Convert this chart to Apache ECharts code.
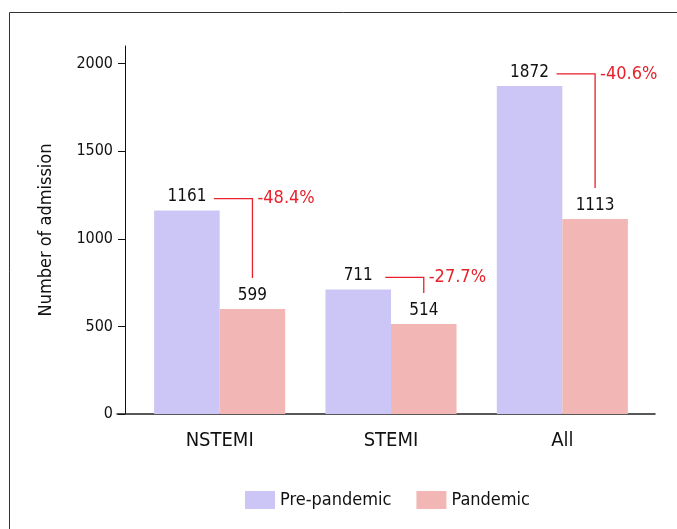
<!DOCTYPE html>
<html>
<head>
<meta charset="utf-8">
<script src="https://cdn.jsdelivr.net/npm/echarts@6/dist/echarts.min.js"></script>
<style>html,body{margin:0;padding:0;background:#fff}#c{width:677px;height:529px}</style>
</head>
<body>
<div id="c"></div>
<script>
const categories = ['NSTEMI', 'STEMI', 'All'];
const prePandemic = [1161, 711, 1872];
const pandemic = [599, 514, 1113];
const changeLabels = ['-48.4%', '-27.7%', '-40.6%'];
const yTicks = [0, 500, 1000, 1500, 2000];
const seriesNames = ['Pre-pandemic', 'Pandemic'];

const FONT = '"DejaVu Sans Condensed", "Liberation Sans Narrow", "Roboto", sans-serif';
const PRE_COLOR = '#cbc6f5';
const PAN_COLOR = '#f2b7b5';
const RED = '#e8212b';
const GAP = 0.235;

const chart = echarts.init(document.getElementById('c'), null, {renderer: 'canvas'});
const option = {
  backgroundColor: '#fff',
  animation: false,
  textStyle: {fontFamily: FONT},
  graphic: [{
    type: 'rect', left: 7, top: 10, shape: {width: 700, height: 600},
    style: {fill: 'none', stroke: '#333', lineWidth: 1}, silent: true, z: -10
  }],
  grid: [
    {left: 134, right: 29, top: 46, bottom: 115},
    {left: 117, right: 22, top: 46, bottom: 115}
  ],
  legend: {
    data: seriesNames,
    left: 240, top: 486,
    itemWidth: 30, itemHeight: 18, itemGap: 25,
    icon: 'rect',
    textStyle: {fontFamily: FONT, fontSize: 18, color: '#111'}
  },
  xAxis: [{
    type: 'category', data: categories, gridIndex: 0,
    axisLine: {show: false},
    axisTick: {show: false},
    axisLabel: {fontFamily: FONT, fontSize: 20, color: '#111', margin: 17}
  }, {
    type: 'value', gridIndex: 1, min: 0, max: 1,
    axisLine: {show: true, lineStyle: {color: '#222', width: 1.5}},
    axisTick: {show: false}, axisLabel: {show: false}, splitLine: {show: false}
  }],
  yAxis: [{
    type: 'value', gridIndex: 0, min: 0, max: 2100, interval: 500, offset: 9,
    name: 'Number of admission', nameLocation: 'middle', nameGap: 70,
    nameTextStyle: {fontFamily: FONT, fontSize: 18, color: '#111'},
    axisLine: {show: true, lineStyle: {color: '#111', width: 1}},
    axisTick: {show: true, length: 7, lineStyle: {color: '#111'}, customValues: yTicks},
    axisLabel: {fontFamily: FONT, fontSize: 16, color: '#111', margin: 12, customValues: yTicks,
                formatter: function (v) { return String(v); }},
    splitLine: {show: false}
  }, {
    type: 'value', gridIndex: 1, show: false
  }],
  series: [{
    name: seriesNames[0], type: 'bar', data: prePandemic,
    barGap: '0%', barCategoryGap: (GAP * 100) + '%',
    itemStyle: {color: PRE_COLOR},
    label: {show: true, position: 'top', distance: 5, fontFamily: FONT, fontSize: 17, color: '#111'}
  }, {
    name: seriesNames[1], type: 'bar', data: pandemic,
    barGap: '0%', barCategoryGap: (GAP * 100) + '%',
    itemStyle: {color: PAN_COLOR},
    label: {show: true, position: 'top', distance: 5, fontFamily: FONT, fontSize: 17, color: '#111'}
  }, {
    type: 'custom', silent: true, z: 10,
    data: categories.map((c, i) => [i, prePandemic[i], pandemic[i]]),
    encode: {x: 0, y: [1, 2]},
    renderItem: function (params, api) {
      const i = api.value(0);
      const c1 = api.coord([i, api.value(1)]);
      const c2 = api.coord([i, api.value(2)]);
      const band = api.size([1, 0])[0];
      const barW = band * (1 - GAP) / 2;
      const xPre = c1[0] - barW / 2;
      const xPan = c1[0] + barW / 2;
      const yH = c1[1] - 12;
      const yEnd = c2[1] - 31;
      return {
        type: 'group',
        children: [{
          type: 'polyline',
          shape: {points: [[xPre + 27, yH], [xPan, yH], [xPan, yEnd]]},
          style: {stroke: RED, lineWidth: 1.3, fill: 'none'}
        }, {
          type: 'text',
          x: xPan + 5, y: yH,
          style: {text: changeLabels[params.dataIndex], fill: RED, font: '18px ' + FONT,
                  verticalAlign: 'middle', align: 'left'}
        }]
      };
    }
  }]
};
chart.setOption(option);
</script>
</body>
</html>
